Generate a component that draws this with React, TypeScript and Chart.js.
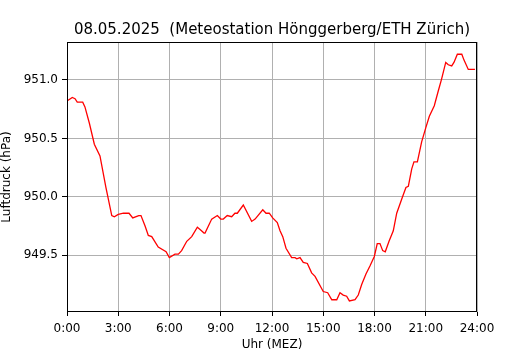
import React, { useEffect, useRef } from "react";
import { Chart, registerables } from "chart.js";

Chart.register(...registerables);

const TITLE = "08.05.2025  (Meteostation Hönggerberg/ETH Zürich)";
const X_LABEL = "Uhr (MEZ)";
const Y_LABEL = "Luftdruck (hPa)";

const hours = [
  0.0, 0.31, 0.47, 0.6, 0.92, 1.05, 1.31, 1.6, 1.93, 2.28, 2.62, 2.77, 3.0, 3.3, 3.63, 3.85,
  4.2, 4.33, 4.57, 4.76, 4.96, 5.34, 5.8, 5.99, 6.32, 6.52, 6.71, 7.01, 7.3, 7.63, 7.79, 8.02,
  8.08, 8.47, 8.8, 9.0, 9.15, 9.38, 9.64, 9.83, 9.97, 10.32, 10.81, 11.01, 11.46, 11.65, 11.84,
  12.04, 12.31, 12.47, 12.63, 12.82, 13.15, 13.35, 13.45, 13.64, 13.83, 14.07, 14.32, 14.52,
  15.0, 15.26, 15.5, 15.79, 15.98, 16.17, 16.37, 16.53, 16.86, 17.05, 17.25, 17.5, 17.74,
  17.99, 18.16, 18.32, 18.48, 18.63, 18.85, 19.1, 19.3, 19.59, 19.84, 19.98, 20.18, 20.31,
  20.51, 20.76, 21.0, 21.21, 21.5, 21.74, 21.93, 22.17, 22.32, 22.52, 22.65, 22.85, 23.11,
  23.24, 23.49, 23.69, 23.88,
];

const pressure = [
  950.82, 950.85, 950.84, 950.81, 950.81, 950.77, 950.63, 950.45, 950.35, 950.08, 949.84,
  949.83, 949.85, 949.86, 949.86, 949.82, 949.84, 949.84, 949.75, 949.67, 949.66, 949.57,
  949.53, 949.48, 949.51, 949.51, 949.54, 949.62, 949.66, 949.74, 949.72, 949.69, 949.69,
  949.81, 949.84, 949.81, 949.81, 949.84, 949.83, 949.86, 949.86, 949.93, 949.79, 949.81,
  949.89, 949.86, 949.86, 949.82, 949.78, 949.71, 949.66, 949.56, 949.48, 949.48, 949.47,
  949.48, 949.44, 949.43, 949.35, 949.32, 949.19, 949.18, 949.12, 949.12, 949.18, 949.16,
  949.15, 949.11, 949.12, 949.16, 949.25, 949.34, 949.41, 949.49, 949.6, 949.6, 949.54,
  949.53, 949.62, 949.71, 949.86, 949.98, 950.08, 950.09, 950.24, 950.3, 950.3, 950.47,
  950.59, 950.69, 950.78, 950.91, 951.01, 951.15, 951.13, 951.12, 951.15, 951.22, 951.22,
  951.17, 951.09, 951.09, 951.09,
];

const xTicks = [0, 3, 6, 9, 12, 15, 18, 21, 24];
const yTicks = [949.5, 950.0, 950.5, 951.0];

const FONT = "'DejaVu Sans', sans-serif";

const framePlugin = {
  id: "frame",
  afterDraw(chart: any) {
    const { ctx, chartArea } = chart;
    ctx.save();
    ctx.strokeStyle = "#000";
    ctx.lineWidth = 1;
    ctx.strokeRect(
      Math.round(chartArea.left) + 0.5,
      Math.round(chartArea.top) + 0.5,
      Math.round(chartArea.right - chartArea.left) - 1,
      Math.round(chartArea.bottom - chartArea.top) - 1
    );
    ctx.restore();
  },
};

export default function App() {
  const ref = useRef<HTMLCanvasElement | null>(null);

  useEffect(() => {
    document.body.style.margin = "0";
    const canvas = ref.current;
    if (!canvas) return;
    const data = hours.map((h, i) => ({ x: h, y: pressure[i] }));
    const chart = new Chart(canvas, {
      type: "line",
      data: {
        datasets: [
          {
            data,
            borderColor: "#ff0000",
            borderWidth: 1.3,
            pointRadius: 0,
            tension: 0,
            fill: false,
          },
        ],
      },
      options: {
        animation: false,
        responsive: false,
        devicePixelRatio: 1,
        layout: { padding: { top: 21, left: 0, right: 53, bottom: 0 } },
        plugins: {
          legend: { display: false },
          tooltip: { enabled: false },
          title: {
            display: true,
            fullSize: false,
            text: TITLE,
            color: "#000",
            font: { family: FONT, size: 15, weight: "normal" },
            padding: { top: 0, bottom: 3 },
          },
        },
        scales: {
          x: {
            type: "linear",
            min: 0,
            max: 24,
            afterBuildTicks: (scale: any) => {
              scale.ticks = xTicks.map((v) => ({ value: v }));
            },
            afterFit: (scale: any) => {
              scale.height = 38;
            },
            ticks: {
              autoSkip: false,
              maxRotation: 0,
              color: "#000",
              padding: 6,
              font: { family: FONT, size: 12 },
              callback: (v: any) => `${v}:00`,
            },
            grid: {
              color: "#b0b0b0",
              lineWidth: 1,
              tickColor: "#000",
              tickLength: 4,
            },
            border: { display: false },
            title: {
              display: true,
              text: X_LABEL,
              color: "#000",
              font: { family: FONT, size: 12, lineHeight: 1 },
              padding: { top: 0, bottom: -1 },
            },
          },
          y: {
            type: "linear",
            min: 949.015,
            max: 951.325,
            afterBuildTicks: (scale: any) => {
              scale.ticks = yTicks.map((v) => ({ value: v }));
            },
            afterFit: (scale: any) => {
              scale.width = 67;
            },
            ticks: {
              color: "#000",
              padding: 4,
              font: { family: FONT, size: 12 },
              callback: (v: any) => Number(v).toFixed(1),
            },
            grid: {
              color: "#b0b0b0",
              lineWidth: 1,
              tickColor: "#000",
              tickLength: 5,
            },
            border: { display: false },
            title: {
              display: true,
              text: Y_LABEL,
              color: "#000",
              font: { family: FONT, size: 12, lineHeight: 1 },
              padding: { top: 1, bottom: 0 },
            },
          },
        },
      },
      plugins: [framePlugin],
    });
    return () => chart.destroy();
  }, []);

  return (
    <div style={{ position: "absolute", left: 0, top: 0, width: 530, height: 350, background: "#fff" }}>
      <canvas ref={ref} width={530} height={350} style={{ width: 530, height: 350 }} />
    </div>
  );
}
